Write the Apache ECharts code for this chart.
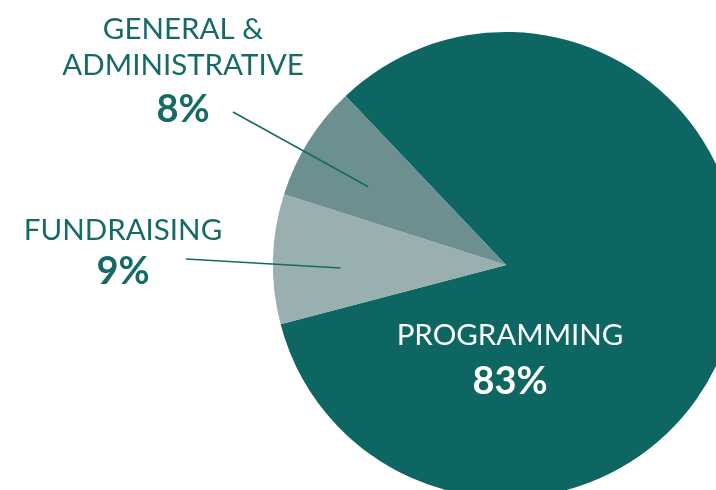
<!DOCTYPE html>
<html><head><meta charset="utf-8">
<script src="https://cdn.jsdelivr.net/npm/echarts@6/dist/echarts.min.js"></script>
<style>html,body{margin:0;padding:0;background:#fff}#c{width:716px;height:490px}</style>
</head><body><div id="c"></div>
<script>
// ---- data ----
const categories = ['PROGRAMMING', 'FUNDRAISING', 'GENERAL &\nADMINISTRATIVE'];
const values = [83, 9, 8];
const sliceColors = ['#0e6663', '#9aafb0', '#6c8f8f'];

// ---- layout / style ----
const CENTER = [506, 265];
const RADIUS = 233;
const START_ANGLE = 133.5;
const TEAL = '#166a66';
// anchor = top-centre of each label block; pctLH = line height of the % line
const labelLayoutCfg = [
  { x: 510, y: 317, pctLH: 57, inside: true },
  { x: 123, y: 212, pctLH: 48, lineEnd: [186, 259], lineFrac: 0.71, angleOffset: 2.5 },
  { x: 183, y: 11,  pctLH: 53, lineEnd: [233, 112], lineFrac: 0.68, angleOffset: 2.5 }
];

const total = values.reduce((a, b) => a + b, 0);
function midAngle(i) {
  let before = 0;
  for (let k = 0; k < i; k++) before += values[k];
  return START_ANGLE - (before + values[i] / 2) * 360 / total;
}

const rich = {
  n:  { fontFamily: 'Lato', fontWeight: 'normal', fontSize: 29.5, lineHeight: 36, color: TEAL },
  nw: { fontFamily: 'Lato', fontWeight: 'normal', fontSize: 29.5, lineHeight: 36, color: '#ffffff' }
};
labelLayoutCfg.forEach((c, i) => {
  rich['p' + i] = { fontFamily: 'Lato', fontWeight: 'bold', fontSize: 38, lineHeight: c.pctLH,
                    color: c.inside ? '#ffffff' : TEAL };
});

const pieBase = {
  type: 'pie',
  center: CENTER,
  radius: RADIUS,
  startAngle: START_ANGLE,
  clockwise: true,
  silent: true,
  avoidLabelOverlap: false,
  emphasis: { disabled: true }
};

const chart = echarts.init(document.getElementById('c'), null, { renderer: 'canvas' });
chart.setOption({
  animation: false,
  backgroundColor: '#ffffff',
  series: [
    Object.assign({}, pieBase, {
      z: 2,
      itemStyle: { borderWidth: 0 },
      label: { show: false },
      labelLine: { show: false },
      data: categories.map((name, i) => ({ name: name, value: values[i], itemStyle: { color: sliceColors[i] } }))
    }),
    // label layer: same geometry, invisible slices, drawn above the slices
    Object.assign({}, pieBase, {
      z: 5,
      itemStyle: { color: 'rgba(0,0,0,0)', borderWidth: 0 },
      label: {
        show: true,
        position: 'outside',
        formatter: function (p) {
          const c = labelLayoutCfg[p.dataIndex];
          const nameStyle = c.inside ? 'nw' : 'n';
          return p.name.split('\n').map(s => '{' + nameStyle + '|' + s + '}').join('\n') +
                 '\n{p' + p.dataIndex + '|' + p.value + '%}';
        },
        rich: rich
      },
      labelLine: { show: true, lineStyle: { color: TEAL, width: 1.5 } },
      labelLayout: function (params) {
        const i = params.dataIndex;
        const c = labelLayoutCfg[i];
        const out = { x: c.x, y: c.y, align: 'center', verticalAlign: 'top' };
        if (c.lineEnd) {
          const a = (midAngle(i) + c.angleOffset) * Math.PI / 180;
          const r = RADIUS * c.lineFrac;
          const start = [CENTER[0] + r * Math.cos(a), CENTER[1] - r * Math.sin(a)];
          out.labelLinePoints = [c.lineEnd, start];
        }
        return out;
      },
      data: categories.map((name, i) => ({
        name: name,
        value: values[i],
        labelLine: { show: !labelLayoutCfg[i].inside }
      }))
    })
  ]
});
</script>
</body></html>
